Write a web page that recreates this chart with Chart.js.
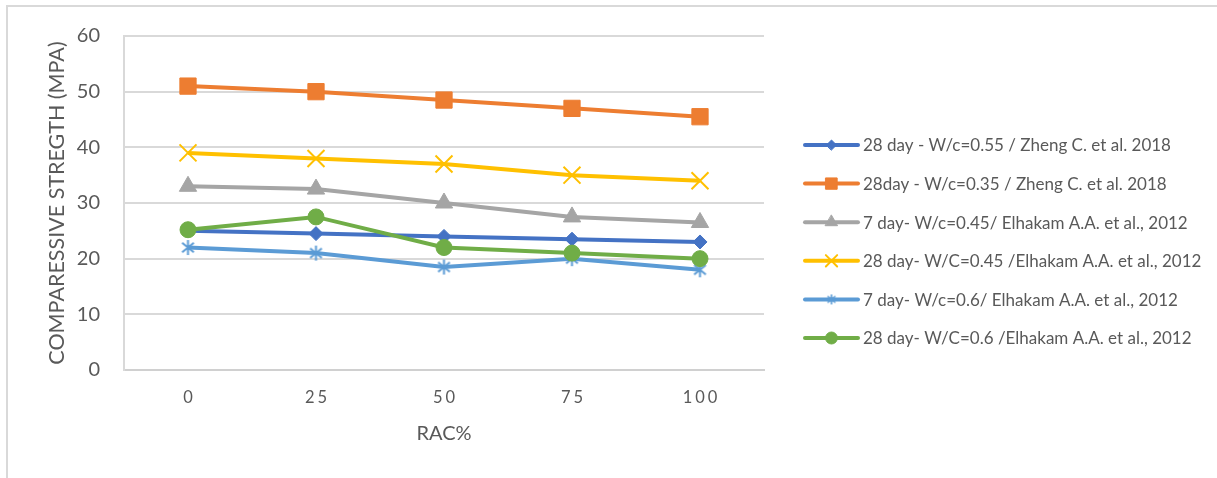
<!DOCTYPE html>
<html>
<head>
<meta charset="utf-8">
<script src="https://cdn.jsdelivr.net/npm/chart.js@4/dist/chart.umd.min.js"></script>
<style>
  html, body { margin: 0; padding: 0; background: #fff; overflow: hidden; }
  #wrap { position: absolute; left: 0; top: 0; width: 1217px; height: 478px; }
  #frame { position: absolute; left: 6px; top: 5px; width: 1400px; height: 700px;
           border-left: 2px solid #d9d9d9; border-top: 2px solid #d9d9d9; }
  canvas { position: absolute; left: 0; top: 0; }
</style>
</head>
<body>
<div id="wrap">
  <div id="frame"></div>
  <canvas id="c" width="1217" height="478"></canvas>
</div>
<script>
// RAC replacement levels (%)
const racLevels = ['0', '25', '50', '75', '100'];

// Series names
const seriesNames = [
  '28 day - W/c=0.55 / Zheng C. et al. 2018',
  '28day - W/c=0.35 / Zheng C. et al. 2018',
  '7 day- W/c=0.45/ Elhakam A.A. et al., 2012',
  '28 day- W/C=0.45 /Elhakam A.A. et al., 2012',
  '7 day- W/c=0.6/ Elhakam A.A. et al., 2012',
  '28 day- W/C=0.6 /Elhakam A.A. et al., 2012'
];

// Compressive strength (MPa)
const zheng28_055 = [25, 24.5, 24, 23.5, 23];
const zheng28_035 = [51, 50, 48.5, 47, 45.5];
const elhakam7_045 = [33, 32.5, 30, 27.5, 26.5];
const elhakam28_045 = [39, 38, 37, 35, 34];
const elhakam7_06 = [22, 21, 18.5, 20, 18];
const elhakam28_06 = [25.2, 27.5, 22, 21, 20];

// Axis range
const yMin = 0, yMax = 60, yMajor = 10, yMinor = 2;

const FONT = "Lato, 'Open Sans', sans-serif";
const TXT = '#595959';

// Category axis whose labels are drawn with extra letter spacing
const SPACING = 3;
class SpacedCategoryScale extends Chart.CategoryScale {
  drawLabels(area) {
    const ctx = this.ctx;
    ctx.save();
    ctx.letterSpacing = SPACING + 'px';
    ctx.translate(SPACING / 2, 0);
    super.drawLabels(area);
    ctx.restore();
  }
}
SpacedCategoryScale.id = 'spacedCategory';
SpacedCategoryScale.defaults = Chart.CategoryScale.defaults;
Chart.register(SpacedCategoryScale);

// Asterisk marker (vertical stroke plus two diagonals)
function asterisk(size, color, lw) {
  const cv = document.createElement('canvas');
  cv.width = size; cv.height = size;
  const g = cv.getContext('2d');
  const c = size / 2, r = size / 2 - 1;
  g.strokeStyle = color; g.lineWidth = lw; g.lineCap = 'butt';
  g.beginPath();
  g.moveTo(c, c - r); g.lineTo(c, c + r);
  const d = r * 0.78;
  g.moveTo(c - d, c - d * 0.8); g.lineTo(c + d, c + d * 0.8);
  g.moveTo(c - d, c + d * 0.8); g.lineTo(c + d, c - d * 0.8);
  g.stroke();
  return cv;
}
const starBig = asterisk(17, '#5b9bd5', 2);
const starSmall = asterisk(12, '#5b9bd5', 1.6);

const styles = [
  { color: '#4472c4', point: 'rectRot', r: 7, lr: 5 },
  { color: '#ed7d31', point: 'rect', r: 11.5, lr: 8 },
  { color: '#a5a5a5', point: 'triangle', r: 10, lr: 7 },
  { color: '#ffc000', point: 'crossRot', r: 12, lr: 8, bw: 2 },
  { color: '#5b9bd5', point: starBig, r: 8, lr: 6, legendPoint: starSmall },
  { color: '#70ad47', point: 'circle', r: 8, lr: 6 }
];
const seriesValues = [zheng28_055, zheng28_035, elhakam7_045, elhakam28_045, elhakam7_06, elhakam28_06];

const datasets = seriesValues.map((vals, i) => ({
  label: seriesNames[i],
  data: vals,
  borderColor: styles[i].color,
  backgroundColor: styles[i].color,
  borderWidth: 4,
  pointStyle: styles[i].point,
  pointRadius: styles[i].r,
  pointHoverRadius: styles[i].r,
  pointBorderWidth: styles[i].bw || 1,
  pointBackgroundColor: styles[i].color,
  pointBorderColor: styles[i].color,
  tension: 0,
  order: seriesValues.length - i
}));

// Legend drawn at the right of the plot
const sideLegend = {
  id: 'sideLegend',
  afterDraw(chart) {
    const ctx = chart.ctx;
    const x0 = 805, x1 = 858, tx = 863, y0 = 145, dy = 38.6;
    ctx.save();
    ctx.font = '17px ' + FONT;
    ctx.textBaseline = 'middle';
    ctx.textAlign = 'left';
    chart.data.datasets.forEach((ds, i) => {
      const y = y0 + i * dy;
      const st = styles[i];
      ctx.strokeStyle = st.color;
      ctx.lineWidth = 4;
      ctx.lineCap = 'round';
      ctx.beginPath();
      ctx.moveTo(x0, y); ctx.lineTo(x1, y);
      ctx.stroke();
      ctx.fillStyle = st.color;
      ctx.lineWidth = st.bw || 1;
      Chart.helpers.drawPoint(ctx, {
        pointStyle: st.legendPoint || st.point,
        radius: st.lr, rotation: 0, borderWidth: st.bw || 1
      }, (x0 + x1) / 2, y);
      ctx.fillStyle = TXT;
      ctx.fillText(ds.label, tx, y + 1);
    });
    ctx.restore();
  }
};

new Chart(document.getElementById('c'), {
  type: 'line',
  data: { labels: racLevels, datasets },
  options: {
    responsive: false,
    animation: false,
    devicePixelRatio: 1,
    layout: { padding: { left: 0, top: 34, right: 453, bottom: 0 } },
    plugins: { legend: { display: false }, tooltip: { enabled: false } },
    scales: {
      x: {
        type: 'spacedCategory',
        offset: true,
        grid: { display: false, drawTicks: false },
        border: { display: true, color: '#d0d0d0', width: 2 },
        ticks: { color: TXT, font: { family: FONT, size: 16.5 }, padding: 18, maxRotation: 0, autoSkip: false },
        title: { display: true, text: 'RAC%', color: TXT, font: { family: FONT, size: 20 }, padding: { bottom: 32 } },
        afterFit(s) { s.height = 108; }
      },
      y: {
        min: yMin, max: yMax,
        grid: {
          drawTicks: false,
          color: c => (c.tick && c.tick.value % yMajor === 0) ? '#d9d9d9' : '#efefef',
          lineWidth: c => (c.tick && c.tick.value % yMajor === 0) ? 2 : 1
        },
        border: { display: true, color: '#d9d9d9', width: 2 },
        ticks: {
          stepSize: yMinor, autoSkip: false, padding: 24,
          color: TXT, font: { family: FONT, size: 20 },
          callback: v => (v % yMajor === 0 ? v : null)
        },
        title: { display: true, text: 'COMPARESSIVE STREGTH (MPA)', color: TXT, font: { family: FONT, size: 21.5 }, padding: { top: 44 } },
        afterFit(s) { s.width = 124; }
      }
    }
  },
  plugins: [sideLegend]
});
</script>
</body>
</html>
